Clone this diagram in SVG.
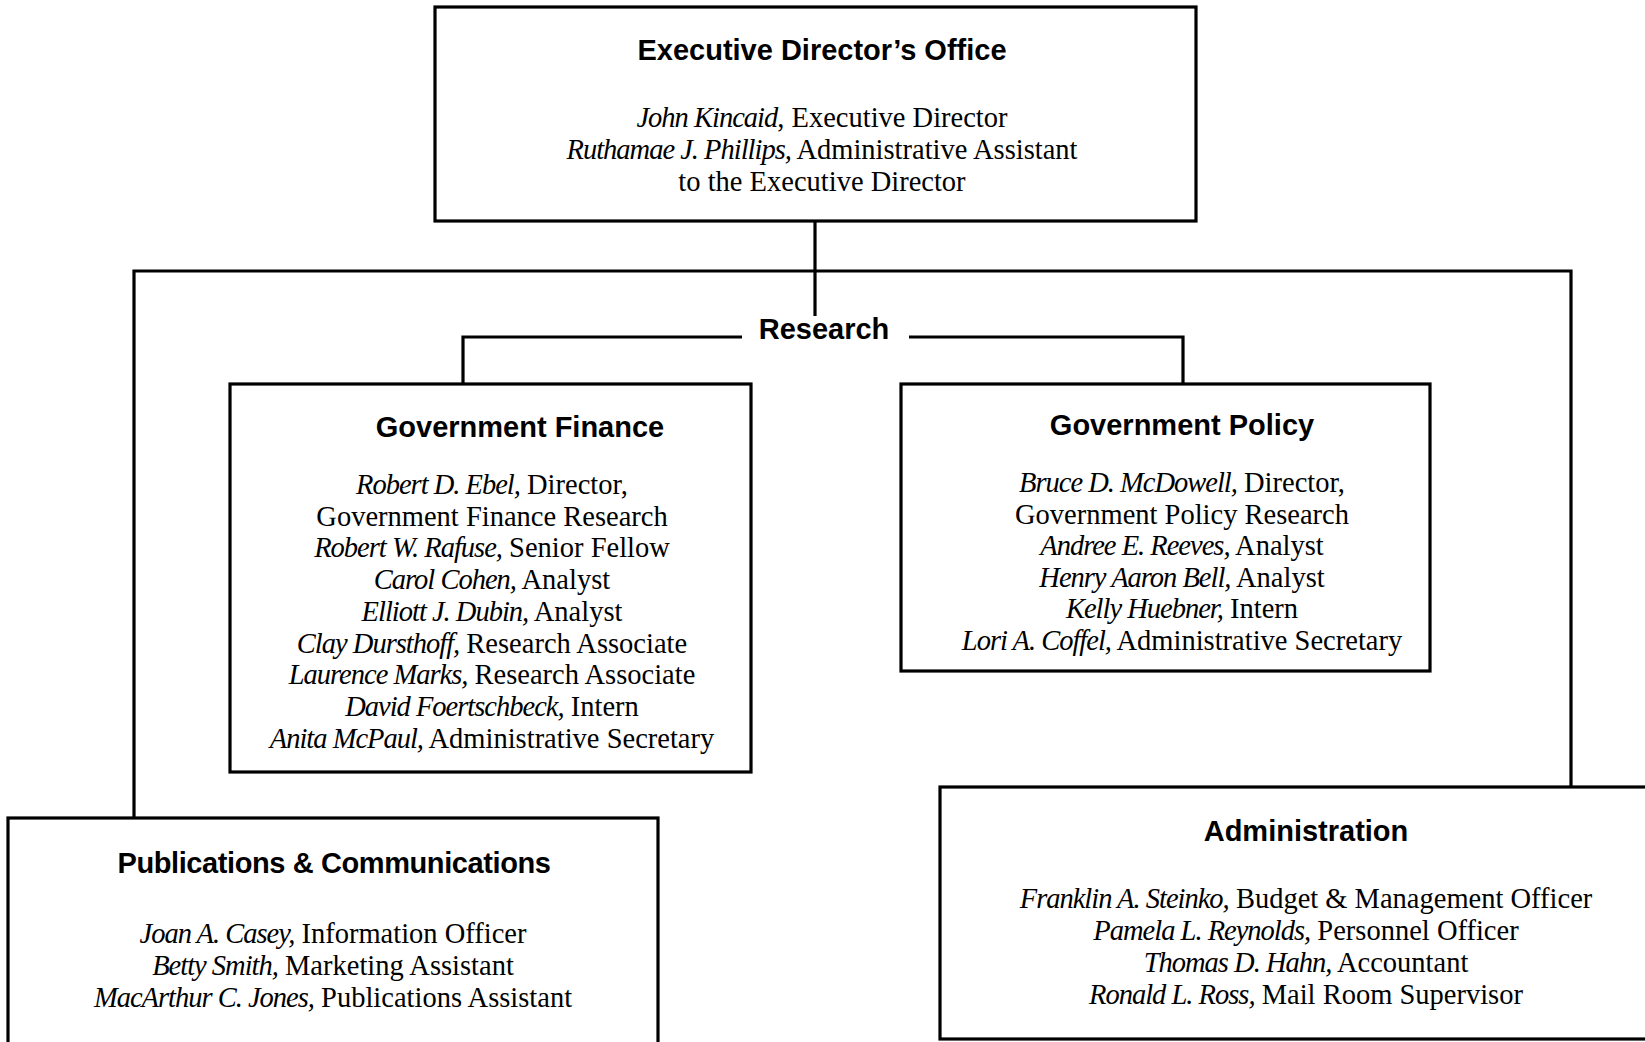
<svg xmlns="http://www.w3.org/2000/svg" width="1645" height="1042" viewBox="0 0 1645 1042">
<style>
.box{fill:#fff;stroke:#000;stroke-width:3.2}
.ln{fill:none;stroke:#000;stroke-width:3.2}
.t{font-family:"Liberation Sans",Arial,sans-serif;font-weight:bold;font-size:29px;text-anchor:middle;fill:#000}
.b{font-family:"Liberation Serif","Times New Roman",serif;font-size:28.5px;text-anchor:middle;fill:#000}
.i{font-style:italic;letter-spacing:-1px}
</style>
<rect width="1645" height="1042" fill="#fff"/>
<g id="connectors">
<path class="ln" d="M815 221 V316"/>
<path class="ln" d="M134 818 V271 H1571 V787"/>
<path class="ln" d="M742 337 H463 V384"/>
<path class="ln" d="M909 337 H1183 V384"/>
</g>
<g id="research">
<text class="t" x="824" y="339">Research</text>
</g>
<g id="exec">
<rect class="box" x="435" y="7" width="761" height="214"/>
<text class="t" x="822" y="60">Executive Director’s Office</text>
<text class="b" x="822" y="127"><tspan class="i">John Kincaid</tspan>, Executive Director</text>
<text class="b" x="822" y="159"><tspan class="i">Ruthamae J. Phillips,</tspan> Administrative Assistant</text>
<text class="b" x="822" y="191">to the Executive Director</text>
</g>
<g id="finance">
<rect class="box" x="230" y="384" width="521" height="388"/>
<text class="t" x="520" y="437">Government Finance</text>
<text class="b" x="492" y="494"><tspan class="i">Robert D. Ebel,</tspan> Director,</text>
<text class="b" x="492" y="525.7">Government Finance Research</text>
<text class="b" x="492" y="557.4"><tspan class="i">Robert W. Rafuse,</tspan> Senior Fellow</text>
<text class="b" x="492" y="589.1"><tspan class="i">Carol Cohen,</tspan> Analyst</text>
<text class="b" x="492" y="620.8"><tspan class="i">Elliott J. Dubin,</tspan> Analyst</text>
<text class="b" x="492" y="652.5"><tspan class="i">Clay Dursthoff,</tspan> Research Associate</text>
<text class="b" x="492" y="684.2"><tspan class="i">Laurence Marks,</tspan> Research Associate</text>
<text class="b" x="492" y="715.9"><tspan class="i">David Foertschbeck,</tspan> Intern</text>
<text class="b" x="492" y="747.6"><tspan class="i">Anita McPaul,</tspan> Administrative Secretary</text>
</g>
<g id="policy">
<rect class="box" x="901" y="384" width="529" height="287"/>
<text class="t" x="1182" y="435">Government Policy</text>
<text class="b" x="1182" y="492"><tspan class="i">Bruce D. McDowell,</tspan> Director,</text>
<text class="b" x="1182" y="523.5">Government Policy Research</text>
<text class="b" x="1182" y="555"><tspan class="i">Andree E. Reeves,</tspan> Analyst</text>
<text class="b" x="1182" y="586.5"><tspan class="i">Henry Aaron Bell,</tspan> Analyst</text>
<text class="b" x="1182" y="618"><tspan class="i">Kelly Huebner,</tspan> Intern</text>
<text class="b" x="1182" y="649.5"><tspan class="i">Lori A. Coffel,</tspan> Administrative Secretary</text>
</g>
<g id="publications">
<rect class="box" x="8" y="818" width="650" height="226"/>
<text class="t" x="334" y="873" letter-spacing="-0.4">Publications &amp; Communications</text>
<text class="b" x="333" y="943"><tspan class="i">Joan A. Casey,</tspan> Information Officer</text>
<text class="b" x="333" y="975"><tspan class="i">Betty Smith,</tspan> Marketing Assistant</text>
<text class="b" x="333" y="1007"><tspan class="i">MacArthur C. Jones,</tspan> Publications Assistant</text>
</g>
<g id="administration">
<rect class="box" x="940" y="787" width="707" height="252"/>
<text class="t" x="1306" y="841">Administration</text>
<text class="b" x="1306" y="908"><tspan class="i">Franklin A. Steinko,</tspan> Budget &amp; Management Officer</text>
<text class="b" x="1306" y="940"><tspan class="i">Pamela L. Reynolds,</tspan> Personnel Officer</text>
<text class="b" x="1306" y="972"><tspan class="i">Thomas D. Hahn,</tspan> Accountant</text>
<text class="b" x="1306" y="1004"><tspan class="i">Ronald L. Ross,</tspan> Mail Room Supervisor</text>
</g>
</svg>
